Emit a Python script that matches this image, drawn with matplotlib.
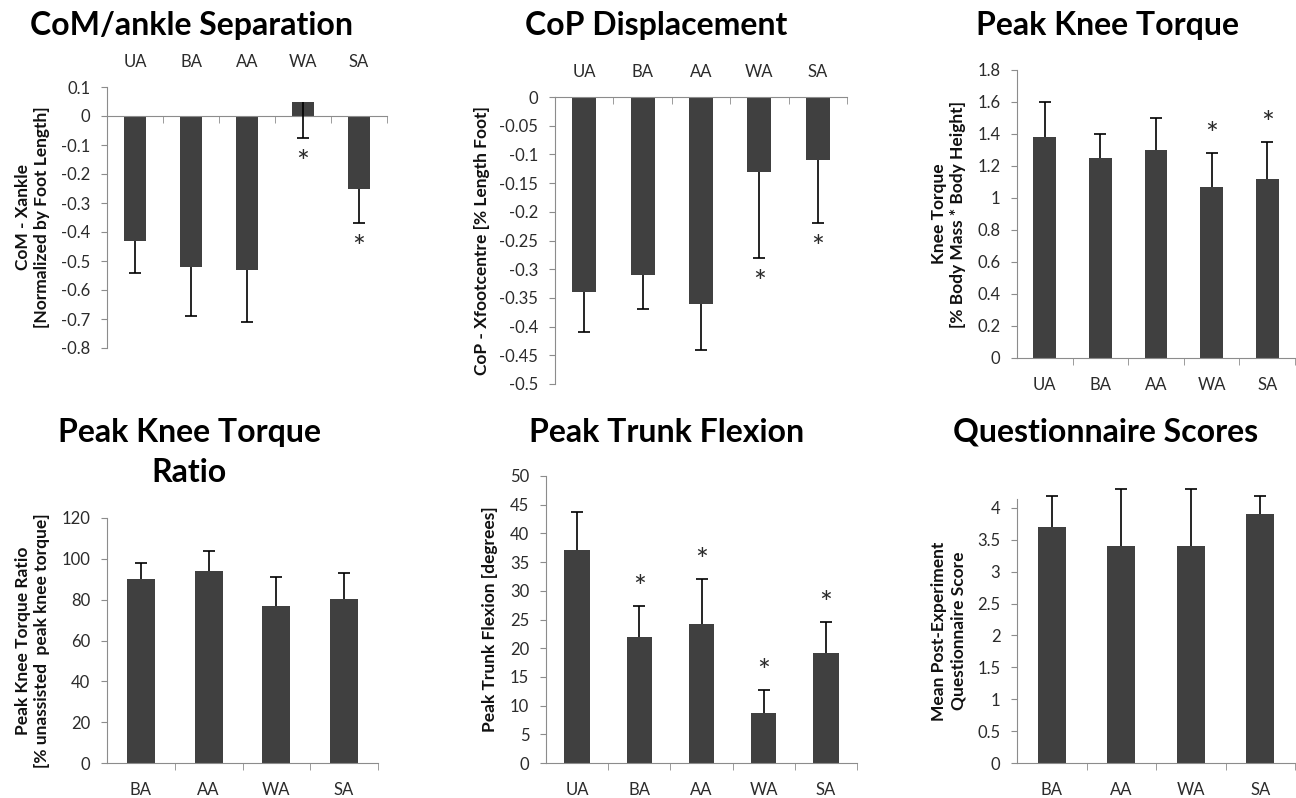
import numpy as np
import matplotlib
matplotlib.use("Agg")
import matplotlib.pyplot as plt
from matplotlib.ticker import FixedLocator, FuncFormatter

W, H = 1296, 798
plt.rcParams['font.family'] = ['Lato', 'DejaVu Sans']

# --- data ---
cats5 = ['UA', 'BA', 'AA', 'WA', 'SA']
cats4 = ['BA', 'AA', 'WA', 'SA']

com_mean = [-0.43, -0.52, -0.53, 0.05, -0.25]
com_err = [0.11, 0.17, 0.18, 0.125, 0.12]
com_sig = [False, False, False, True, True]

cop_mean = [-0.34, -0.31, -0.36, -0.13, -0.11]
cop_err = [0.07, 0.06, 0.08, 0.15, 0.11]
cop_sig = [False, False, False, True, True]

knee_mean = [1.38, 1.25, 1.30, 1.07, 1.12]
knee_err = [0.22, 0.15, 0.20, 0.21, 0.23]
knee_sig = [False, False, False, True, True]

ratio_mean = [90, 94, 77, 80.5]
ratio_err = [8, 10, 14, 12.5]
ratio_sig = [False, False, False, False]

trunk_mean = [37.1, 22.0, 24.3, 8.7, 19.2]
trunk_err = [6.6, 5.4, 7.7, 4.0, 5.3]
trunk_sig = [False, True, True, True, True]

quest_mean = [3.7, 3.4, 3.4, 3.9]
quest_err = [0.48, 0.9, 0.9, 0.28]
quest_sig = [False, False, False, False]

BAR = '#404040'
AXC = '#8c8c8c'
TXT = '#2b2b2b'

fig = plt.figure(figsize=(W / 100, H / 100), dpi=100)


def fx(px):
    return px / W


def fy(py):
    return 1 - py / H


def px_axes(left, top, right, bottom):
    return fig.add_axes([fx(left), fy(bottom), (right - left) / W, (bottom - top) / H])


def fmt(v, pos):
    v = round(v, 3)
    if v == 0:
        return '0'
    return f'{v:g}'


def bar_panel(box, cats, mean, err, sig, down, ylim, yticks, ylabel, label_px,
              top_labels=False):
    ax = px_axes(*box)
    x = np.arange(len(cats))
    mean = np.asarray(mean, dtype=float)
    err = np.asarray(err, dtype=float)
    ax.bar(x, mean, width=0.41, color=BAR, zorder=2)
    zeros = np.zeros_like(err)
    yerr = [err, zeros] if down else [zeros, err]
    eb = ax.errorbar(x, mean, yerr=yerr, fmt='none', ecolor='black',
                     elinewidth=1.2, capsize=4, capthick=1.2, zorder=3)
    # hide the cap sitting on the bar end
    eb[1][1 if down else 0].set_visible(False)
    for art in eb.get_children():
        art.set_clip_on(False)
    for i, s in enumerate(sig):
        if s:
            end = mean[i] - err[i] if down else mean[i] + err[i]
            ax.annotate('*', xy=(i, end), xytext=(0, -18 if down else 13),
                        textcoords='offset points', ha='center', va='center',
                        fontsize=22, color=TXT)

    ax.set_xlim(-0.5, len(cats) - 0.5)
    ax.set_ylim(*ylim)
    ax.yaxis.set_major_locator(FixedLocator(yticks))
    ax.yaxis.set_major_formatter(FuncFormatter(fmt))
    ax.set_xticks(x)
    ax.set_xticklabels(cats)
    ax.xaxis.set_minor_locator(FixedLocator(np.arange(0.5, len(cats), 1)))

    for side in ('top', 'right'):
        ax.spines[side].set_visible(False)
    ax.spines['left'].set_color(AXC)
    ax.spines['bottom'].set_color(AXC)
    if ylim[0] < 0:
        ax.spines['bottom'].set_position(('data', 0))

    ax.tick_params(axis='y', length=4, color=AXC, labelsize=12, labelcolor=TXT, pad=8)
    ax.tick_params(axis='x', which='minor', length=5, color=AXC, direction='out',
                   bottom=True, top=False)
    if top_labels:
        ax.tick_params(axis='x', which='major', length=0, bottom=False, top=False,
                       labelbottom=False, labeltop=True, labelsize=12,
                       labelcolor=TXT, pad=12)
    else:
        ax.tick_params(axis='x', which='major', length=0, labelsize=12,
                       labelcolor=TXT, pad=14)
    ax.set_ylabel(ylabel, fontsize=12.5, fontweight='bold', color='#111111',
                  linespacing=1.2)
    left, top, right, bottom = box
    ax.yaxis.set_label_coords((label_px - left) / (right - left), 0.5)
    ax.set_facecolor('none')
    return ax


bar_panel((107, 87, 387, 348), cats5, com_mean, com_err, com_sig, True,
          (-0.8, 0.1), np.round(np.arange(-0.8, 0.11, 0.1), 2),
          'CoM - Xankle\n[Normalized by Foot Length]', 50, top_labels=True)
bar_panel((555, 97, 847, 384), cats5, cop_mean, cop_err, cop_sig, True,
          (-0.5, 0), np.round(np.arange(-0.5, 0.01, 0.05), 2),
          'CoP - Xfootcentre [% Length Foot]', 490, top_labels=True)
bar_panel((1017, 70, 1295, 358), cats5, knee_mean, knee_err, knee_sig, False,
          (0, 1.8), np.round(np.arange(0, 1.81, 0.2), 2),
          'Knee Torque\n[% Body Mass * Body Height]', 966)
bar_panel((107, 518, 378, 763), cats4, ratio_mean, ratio_err, ratio_sig, False,
          (0, 120), np.arange(0, 121, 20),
          'Peak Knee Torque Ratio\n[% unassisted  peak knee torque]', 50)
bar_panel((546, 476, 857, 763), cats5, trunk_mean, trunk_err, trunk_sig, False,
          (0, 50), np.arange(0, 51, 5),
          'Peak Trunk Flexion [degrees]', 498)
bar_panel((1017, 499, 1295, 763), cats4, quest_mean, quest_err, quest_sig, False,
          (0, 4.14), np.round(np.arange(0, 4.01, 0.5), 2),
          'Mean Post-Experiment\nQuestionnaire Score', 966)

title_kw = dict(ha='center', va='baseline', fontsize=23, fontweight='bold', color='black')
fig.text(fx(192), fy(35), 'CoM/ankle Separation', **title_kw)
fig.text(fx(656), fy(35), 'CoP Displacement', **title_kw)
fig.text(fx(1108), fy(35), 'Peak Knee Torque', **title_kw)
fig.text(fx(189), fy(442), 'Peak Knee Torque', **title_kw)
fig.text(fx(189), fy(482), 'Ratio', **title_kw)
fig.text(fx(667), fy(442), 'Peak Trunk Flexion', **title_kw)
fig.text(fx(1106), fy(442), 'Questionnaire Scores', **title_kw)

fig.savefig('out.png', dpi=100)
